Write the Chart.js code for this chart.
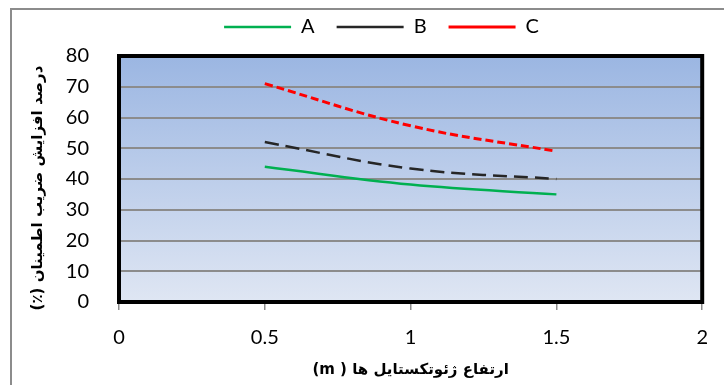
<!DOCTYPE html>
<html>
<head>
<meta charset="utf-8">
<script src="https://cdn.jsdelivr.net/npm/chart.js@4.4.1/dist/chart.umd.min.js"></script>
<style>
  html, body { margin: 0; padding: 0; background: #fff; }
  canvas { display: block; }
</style>
</head>
<body>
<canvas id="myLineChart" width="724" height="385"></canvas>
<script>
// geotextile height (m) and % increase of safety factor
const heights = [0.5, 1, 1.5];
const seriesA = [44, 38.2, 35];
const seriesB = [52, 43.4, 40];
const seriesC = [71, 57.3, 49];
const seriesNames = ['A', 'B', 'C'];
const xTicks = [0, 0.5, 1, 1.5, 2];
const yTicks = [0, 10, 20, 30, 40, 50, 60, 70, 80];

const toPoints = vals => vals.map((v, i) => ({ x: heights[i], y: v }));
// right-to-left embedding so the Persian titles read correctly
const rtl = s => '\u202B' + s + '\u202C';

// gradient plot background, outer frame, thick plot border
const plotFrame = {
  id: 'plotFrame',
  beforeDraw(chart) {
    const { ctx, chartArea: a } = chart;
    ctx.save();
    ctx.fillStyle = '#ffffff';
    ctx.fillRect(0, 0, chart.width, chart.height);
    ctx.strokeStyle = '#8c8c8c';
    ctx.lineWidth = 2;
    ctx.strokeRect(11, 9, chart.width + 20, chart.height + 20);
    const g = ctx.createLinearGradient(0, a.top, 0, a.bottom);
    g.addColorStop(0, '#9bb6e2');
    g.addColorStop(1, '#dfe6f3');
    ctx.fillStyle = g;
    ctx.fillRect(a.left, a.top, a.width, a.height);
    ctx.restore();
  },
  afterDatasetsDraw(chart) {
    const { ctx, chartArea: a } = chart;
    ctx.save();
    ctx.strokeStyle = '#000000';
    ctx.lineWidth = 4;
    ctx.strokeRect(a.left, a.top, a.width, a.height);
    ctx.restore();
  }
};

const ctx = document.getElementById('myLineChart').getContext('2d');
const myLineChart = new Chart(ctx, {
  type: 'line',
  data: {
    datasets: [{
      label: seriesNames[0],
      data: toPoints(seriesA),
      xAxisID: 'x',
      yAxisID: 'y',
      borderColor: '#00b050',
      borderWidth: 2.5,
      tension: 0.4
    }, {
      label: seriesNames[1],
      data: toPoints(seriesB),
      xAxisID: 'x',
      yAxisID: 'y',
      borderColor: '#262626',
      borderWidth: 2.5,
      borderDash: [14, 7],
      tension: 0.4
    }, {
      label: seriesNames[2],
      data: toPoints(seriesC),
      xAxisID: 'x',
      yAxisID: 'y',
      borderColor: '#ff0000',
      borderWidth: 3,
      borderDash: [8, 4],
      tension: 0.4
    }]
  },
  options: {
    responsive: false,
    animation: false,
    devicePixelRatio: 1,
    elements: { point: { radius: 0 } },
    layout: { padding: { left: 60, right: 21, top: -5, bottom: 0 } },
    plugins: {
      tooltip: { enabled: false },
      legend: {
        position: 'top',
        labels: {
          usePointStyle: true,
          pointStyle: 'line',
          pointStyleWidth: 67,
          padding: 22,
          color: '#000',
          font: { family: 'Lato', size: 20 }
        }
      }
    },
    scales: {
      x: {
        type: 'linear',
        min: 0,
        max: 2,
        afterBuildTicks: s => { s.ticks = xTicks.map(v => ({ value: v })); },
        afterFit: s => { s.height = 83; },
        border: { display: false },
        grid: { drawOnChartArea: false, drawTicks: true, tickLength: 8, color: '#8c8c8c', lineWidth: 1.5 },
        ticks: {
          padding: 16,
          color: '#000',
          font: { family: 'Lato', size: 20 },
          maxRotation: 0,
          callback: v => String(v)
        },
        title: {
          display: true,
          text: rtl('ارتفاع ژئوتکستایل ها ( m)'),
          color: '#000',
          font: { family: 'DejaVu Sans', size: 15, weight: 'bold' },
          padding: { top: 0, bottom: 6 }
        }
      },
      // empty top axis, only keeps a gap under the legend
      gap: {
        type: 'linear',
        axis: 'x',
        position: 'top',
        min: 0,
        max: 2,
        afterFit: s => { s.height = 9; },
        border: { display: false },
        grid: { display: false },
        ticks: { display: false }
      },
      y: {
        min: 0,
        max: 80,
        afterBuildTicks: s => { s.ticks = yTicks.map(v => ({ value: v })); },
        afterFit: s => { s.width = 59; },
        border: { display: false },
        grid: { drawTicks: false, color: '#8c8c8c', lineWidth: 2 },
        ticks: { padding: 30, color: '#000', font: { family: 'Lato', size: 20 }, callback: v => String(v) },
        title: {
          display: true,
          text: rtl('\u2002\u2002\u2009درصد افزایش ضریب اطمینان (٪)'),
          color: '#000',
          font: { family: 'DejaVu Sans', size: 15, weight: 'bold' },
          padding: { top: -31, bottom: 0 }
        }
      }
    }
  },
  plugins: [plotFrame]
});
</script>
</body>
</html>
